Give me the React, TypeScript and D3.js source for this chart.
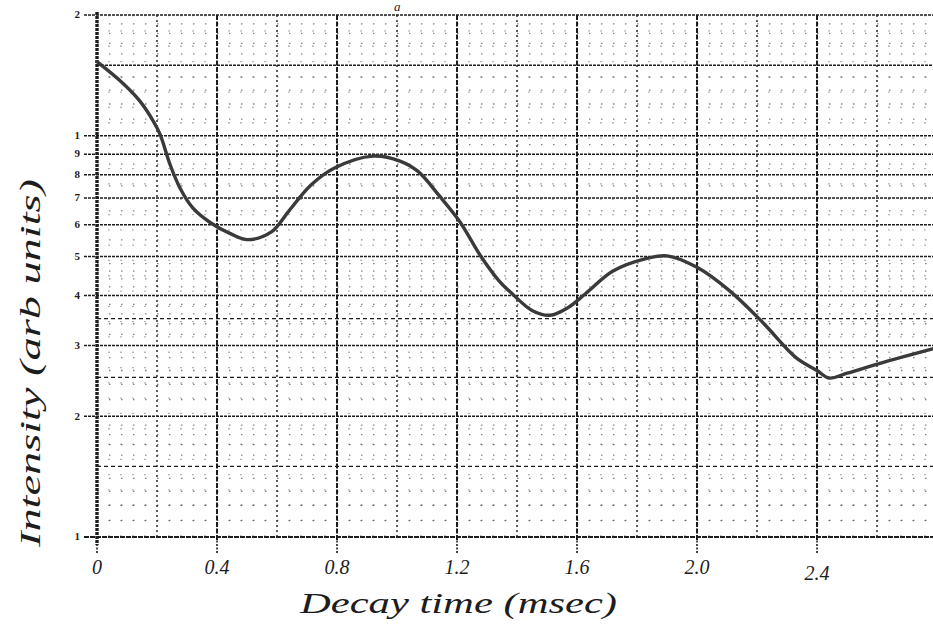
import { useEffect, useRef } from 'react'
import * as d3 from 'd3'

const W = 933
const H = 632

// decay curve: time (msec) and intensity (arb. units)
const decayTime = [0.0, 0.087, 0.143, 0.187, 0.21, 0.243, 0.277, 0.32, 0.377, 0.443, 0.5, 0.58, 0.64, 0.71, 0.79, 0.92,
  1.01, 1.07, 1.14, 1.21, 1.28, 1.34, 1.39, 1.45, 1.51, 1.57, 1.63, 1.72, 1.83, 1.9,
  2.0, 2.11, 2.22, 2.33, 2.4, 2.44, 2.5, 2.61, 2.79]
const intensity = [15.3, 13.5, 12.2, 10.9, 10.1, 8.5, 7.4, 6.6, 6.08, 5.71, 5.51, 5.75, 6.5, 7.5, 8.3, 8.9,
  8.65, 8.15, 7.1, 6.1, 5.0, 4.35, 4.0, 3.67, 3.57, 3.73, 4.05, 4.6, 4.94, 5.02,
  4.7, 4.1, 3.42, 2.8, 2.6, 2.49, 2.56, 2.71, 2.95]

// hand written tick labels on the time axis
const timeTicks = [0, 0.4, 0.8, 1.2, 1.6, 2.0, 2.4]
const timeTickLabels = ['0', '0.4', '0.8', '1.2', '1.6', '2.0', '2.4']

// printed rulings of the semi-log paper
const heavyCols = [0, 0.4, 0.8, 1.2, 1.6, 2.0, 2.4, 2.8]
const lightCols = [0.2, 0.6, 1.0, 1.4, 1.8, 2.2, 2.6]
const paperRows = [1, 2, 3, 4, 5, 6, 7, 8, 9, 10, 15, 20]
const paperRowLabels = ['1', '2', '3', '4', '5', '6', '7', '8', '9', '1', '', '2']
const halfRows = [1.5, 2.5, 3.5]
const dotRows = [1.1, 1.2, 1.3, 1.4, 1.6, 1.7, 1.8, 1.9, 2.2, 2.4, 2.6, 2.8, 3.2, 3.4, 3.6, 3.8,
  4.2, 4.4, 4.6, 4.8, 5.5, 6.5, 7.5, 8.5, 9.5, 11, 12, 13, 14, 16, 17, 18, 19]

function DecayChart() {
  const ref = useRef<SVGSVGElement | null>(null)

  useEffect(() => {
    if (!ref.current) return
    const svg = d3.select(ref.current)
    svg.selectAll('*').remove()

    const x = d3.scaleLinear().domain([0, 2.8]).range([97, 937])
    const y = d3.scaleLog().domain([1, 20]).range([537, 15])
    const ink = '#1d1d1d'

    svg.append('rect').attr('width', W).attr('height', H).attr('fill', '#fff')

    // faint dotted minor ruling
    const minorCols = d3.range(0.04, 2.8, 0.04).filter(d => Math.abs(d / 0.2 - Math.round(d / 0.2)) > 0.01)
    svg.append('g').selectAll('line').data(minorCols).enter().append('line')
      .attr('x1', d => x(d)).attr('x2', d => x(d))
      .attr('y1', y(20)).attr('y2', y(1))
      .attr('stroke', ink).attr('stroke-width', 1.3)
      .attr('stroke-dasharray', '1.3,14').attr('opacity', 0.5)

    svg.append('g').selectAll('line').data(dotRows).enter().append('line')
      .attr('x1', x(0)).attr('x2', W)
      .attr('y1', d => y(d)).attr('y2', d => y(d))
      .attr('stroke', ink).attr('stroke-width', 1.3)
      .attr('stroke-dasharray', '1.5,10.5').attr('opacity', 0.55)

    // half rows (1.5, 2.5, 3.5)
    svg.append('g').selectAll('line').data(halfRows).enter().append('line')
      .attr('x1', x(0)).attr('x2', W)
      .attr('y1', d => y(d)).attr('y2', d => y(d))
      .attr('stroke', ink).attr('stroke-width', 1.2)
      .attr('stroke-dasharray', '4,3')

    // main rows
    svg.append('g').selectAll('line').data(paperRows).enter().append('line')
      .attr('x1', (d, i) => paperRowLabels[i] ? 84 : x(0)).attr('x2', W)
      .attr('y1', d => y(d)).attr('y2', d => y(d))
      .attr('stroke', ink).attr('stroke-width', d => d === 1 ? 2 : 1.5)
      .attr('stroke-dasharray', d => d === 1 ? '5,1' : '3,1')

    // columns
    svg.append('g').selectAll('line').data(lightCols).enter().append('line')
      .attr('x1', d => x(d)).attr('x2', d => x(d))
      .attr('y1', y(20)).attr('y2', y(1))
      .attr('stroke', ink).attr('stroke-width', 1.4)
      .attr('stroke-dasharray', '2,3')

    svg.append('g').selectAll('line').data(heavyCols.filter(d => d > 0)).enter().append('line')
      .attr('x1', d => x(d)).attr('x2', d => x(d))
      .attr('y1', y(20)).attr('y2', y(1) + 4)
      .attr('stroke', ink).attr('stroke-width', 2)
      .attr('stroke-dasharray', '5,1.5')

    // tick stubs below the time axis
    svg.append('g').selectAll('line').data(timeTicks).enter().append('line')
      .attr('x1', d => x(d)).attr('x2', d => x(d))
      .attr('y1', y(1)).attr('y2', y(1) + 17)
      .attr('stroke', ink).attr('stroke-width', 1.6)
      .attr('stroke-dasharray', '2,1.5')

    // left axis (heavy)
    svg.append('line')
      .attr('x1', x(0)).attr('x2', x(0))
      .attr('y1', y(20) - 3).attr('y2', y(1) + 8)
      .attr('stroke', ink).attr('stroke-width', 3.4)
      .attr('stroke-dasharray', '3,1')

    // printed row labels
    svg.append('g').selectAll('text').data(paperRows).enter().append('text')
      .attr('x', 80).attr('y', d => y(d)).attr('dy', '0.3em')
      .attr('text-anchor', 'end')
      .attr('font-family', "'Liberation Serif', serif")
      .attr('font-size', 11).attr('font-weight', 'bold')
      .attr('fill', ink)
      .text((d, i) => paperRowLabels[i])

    // the decay curve
    const line = d3.line<number>()
      .x((d, i) => x(decayTime[i]))
      .y(d => y(d))
      .curve(d3.curveCatmullRom.alpha(0.5))
    svg.append('path')
      .attr('d', line(intensity))
      .attr('fill', 'none')
      .attr('stroke', '#3a3a3a')
      .attr('stroke-width', 3.4)
      .attr('stroke-linecap', 'round')

    // hand written time labels
    svg.append('g').selectAll('text').data(timeTicks).enter().append('text')
      .attr('x', d => x(d)).attr('y', (d, i) => i === 6 ? 580 : 574)
      .attr('text-anchor', 'middle')
      .attr('font-family', "'Liberation Serif', serif")
      .attr('font-style', 'italic')
      .attr('font-size', 20)
      .attr('fill', ink)
      .text((d, i) => timeTickLabels[i])

    // axis titles
    svg.append('text')
      .attr('x', 300).attr('y', 613)
      .attr('font-family', "'Liberation Serif', serif")
      .attr('font-style', 'italic')
      .attr('font-size', 30)
      .attr('textLength', 317).attr('lengthAdjust', 'spacingAndGlyphs')
      .attr('fill', ink)
      .text('Decay time (msec)')

    svg.append('text')
      .attr('transform', 'translate(40,547) rotate(-90)')
      .attr('font-family', "'Liberation Serif', serif")
      .attr('font-style', 'italic')
      .attr('font-size', 30)
      .attr('textLength', 368).attr('lengthAdjust', 'spacingAndGlyphs')
      .attr('fill', ink)
      .text('Intensity (arb units)')

    // small figure letter at the top edge
    svg.append('text')
      .attr('x', 394).attr('y', 11)
      .attr('font-family', "'Liberation Serif', serif")
      .attr('font-style', 'italic')
      .attr('font-size', 13)
      .attr('fill', ink)
      .text('a')
  }, [])

  return (
    <svg
      ref={ref}
      width={W}
      height={H}
      style={{ position: 'absolute', left: 0, top: 0, display: 'block' }}
    />
  )
}

export default function App() {
  return <DecayChart />
}
